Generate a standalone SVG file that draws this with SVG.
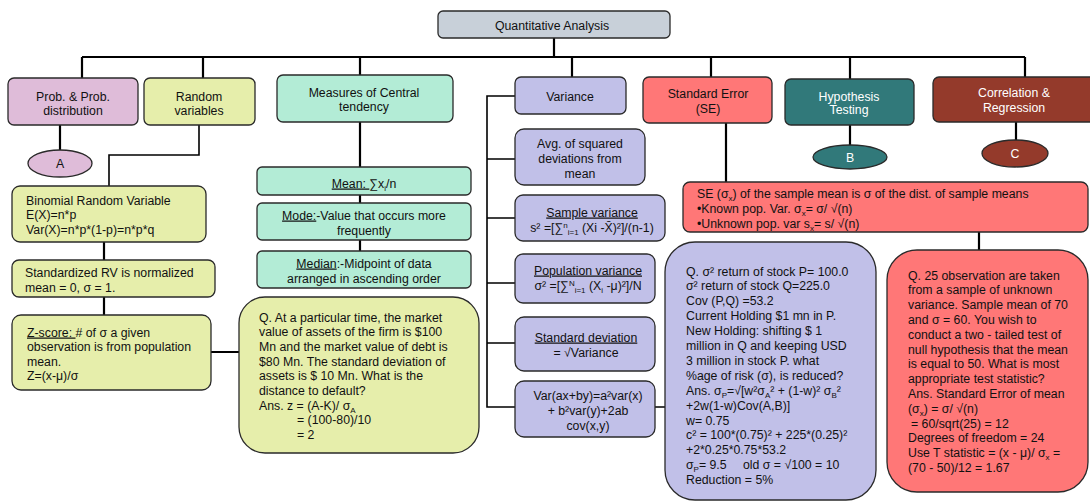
<svg xmlns="http://www.w3.org/2000/svg" width="1090" height="504" viewBox="0 0 1090 504">
<style>
.t{font-family:"Liberation Sans",Arial,sans-serif;font-size:12.3px;fill:#111}
.c{text-anchor:middle}
.w{fill:#fff}
.s{font-size:8px}
.u{text-decoration:underline}
.b{stroke:#2a2a2a;stroke-width:1.3}
.gray{fill:#c8d0d9}.pink{fill:#dfbcd9}.yel{fill:#e6eeab}.mint{fill:#b3ecd6}.lav{fill:#c1c0e8}.red{fill:#ff7777}.teal{fill:#31797a}.brown{fill:#943a2b}
.ln{stroke:#000;stroke-width:2.2;fill:none}
.ln2{stroke:#000;stroke-width:1.6;fill:none}
</style>
<rect width="1090" height="504" fill="#fff"/>
<g id="connectors">
<path class="ln" d="M554 38V57M82 57H1025M82 57V78M203 57V78M360 57V75M572 57V77M711 57V77M850 57V79M1025 57V77"/>
<path class="ln" d="M60 125V150M104 242V260M104 297V315M211 352H239M360 122V167M360 195V203M360 240V251M726 123V182M979 232V250M850 125V145M1016 122V140"/>
<path class="ln2" d="M199 125V155H109V186"/>
<path class="ln2" d="M515 96H487V407H515M487 159H515M487 218H515M487 283H515M487 343H515M655 407H665"/>
</g>
<g id="n-quant"><rect class="b gray" x="438" y="11" width="232" height="27" rx="5"/><text class="t c" x="552" y="29.5">Quantitative Analysis</text></g>
<g id="n-prob"><rect class="b pink" x="8" y="78" width="130" height="47" rx="6"/><text class="t c" x="73" y="100.5">Prob. &amp; Prob.</text><text class="t c" x="73" y="114.5">distribution</text></g>
<g id="n-random"><rect class="b yel" x="144" y="78" width="111" height="47" rx="6"/><text class="t c" x="199" y="100.5">Random</text><text class="t c" x="199" y="114.5">variables</text></g>
<g id="n-measures"><rect class="b mint" x="277" y="75" width="176" height="47" rx="6"/><text class="t c" x="364" y="96.5">Measures of Central</text><text class="t c" x="364" y="110.5">tendency</text></g>
<g id="n-variance"><rect class="b lav" x="515" y="77" width="111" height="37" rx="6"/><text class="t c" x="570" y="100.5">Variance</text></g>
<g id="n-se"><rect class="b red" x="643" y="77" width="129" height="46" rx="6"/><text class="t c" x="708" y="97.5">Standard Error</text><text class="t c" x="708" y="112.5">(SE)</text></g>
<g id="n-hyp"><rect class="b teal" x="785" y="79" width="129" height="46" rx="6"/><text class="t c w" x="849" y="100.5">Hypothesis</text><text class="t c w" x="849" y="113.5">Testing</text></g>
<g id="n-corr"><rect class="b brown" x="933" y="77" width="163" height="45" rx="6"/><text class="t c w" x="1014" y="96.5">Correlation &amp;</text><text class="t c w" x="1014" y="111.5">Regression</text></g>
<g id="n-a"><ellipse class="b pink" cx="60" cy="163.5" rx="32" ry="13.5"/><text class="t c" x="60" y="168">A</text></g>
<g id="n-b"><ellipse class="b teal" cx="850" cy="157" rx="37" ry="12"/><text class="t c w" x="850" y="161.5">B</text></g>
<g id="n-c"><ellipse class="b brown" cx="1015" cy="153.5" rx="33" ry="13.5"/><text class="t c w" x="1015" y="158">C</text></g>
<g id="n-binomial"><rect class="b yel" x="12" y="186" width="194" height="56" rx="8"/><text class="t" x="26" y="204.5">Binomial Random Variable</text><text class="t" x="26" y="219">E(X)=n*p</text><text class="t" x="26" y="233.5">Var(X)=n*p*(1-p)=n*p*q</text></g>
<g id="n-std-rv"><rect class="b yel" x="12" y="260" width="203" height="37" rx="7"/><text class="t" x="25" y="276.5">Standardized RV is normalized</text><text class="t" x="25" y="291.5">mean = 0, σ = 1.</text></g>
<g id="n-zscore"><rect class="b yel" x="12" y="315" width="199" height="75" rx="9"/><text class="t" x="27" y="336.5"><tspan class="u">Z-score: </tspan># of σ a given</text><text class="t" x="27" y="351">observation is from population</text><text class="t" x="27" y="365.5">mean.</text><text class="t" x="27" y="380">Z=(x-μ)/σ</text></g>
<g id="n-mean"><rect class="b mint" x="257" y="167" width="214" height="28" rx="5"/><text class="t c" x="364" y="187.5"><tspan class="u">Mean: </tspan>∑x<tspan class="s" dy="3">i</tspan><tspan dy="-3">/n</tspan></text></g>
<g id="n-mode"><rect class="b mint" x="257" y="203" width="214" height="37" rx="5"/><text class="t c" x="364" y="219.5"><tspan class="u">Mode:</tspan>-Value that occurs more</text><text class="t c" x="364" y="234.5">frequently</text></g>
<g id="n-median"><rect class="b mint" x="257" y="251" width="214" height="37" rx="5"/><text class="t c" x="364" y="267.5"><tspan class="u">Median</tspan>:-Midpoint of data</text><text class="t c" x="364" y="282.5">arranged in ascending order</text></g>
<g id="n-q-dtd"><rect class="b yel" x="239" y="297" width="240" height="156" rx="26"/>
<text class="t" x="259" y="321.5">Q. At a particular time, the market</text>
<text class="t" x="259" y="336.2">value of assets of the firm is $100</text>
<text class="t" x="259" y="350.9">Mn and the market value of debt is</text>
<text class="t" x="259" y="365.6">$80 Mn. The standard deviation of</text>
<text class="t" x="259" y="380.3">assets is $ 10 Mn. What is the</text>
<text class="t" x="259" y="395">distance to default?</text>
<text class="t" x="259" y="409.7">Ans. z = (A-K)/ σ<tspan class="s" dy="3">A</tspan></text>
<text class="t" x="297" y="424.4">= (100-80)/10</text>
<text class="t" x="297" y="439.1">= 2</text>
</g>
<g id="n-avg"><rect class="b lav" x="515" y="129" width="130" height="56" rx="9"/><text class="t c" x="580" y="147.5">Avg. of squared</text><text class="t c" x="580" y="162.5">deviations from</text><text class="t c" x="580" y="177.5">mean</text></g>
<g id="n-sample-var"><rect class="b lav" x="515" y="195" width="150" height="46" rx="8"/><text class="t c u" x="592" y="216.5">Sample variance</text><text class="t c" x="592" y="231.5">s² =[∑<tspan class="s" dy="-4">n</tspan><tspan class="s" dy="7">i=1</tspan><tspan dy="-3"> (Xi -X̄)²]/(n-1)</tspan></text></g>
<g id="n-pop-var"><rect class="b lav" x="515" y="254" width="140" height="49" rx="8"/><text class="t c u" x="588" y="274.5">Population variance</text><text class="t c" x="588" y="289.5">σ² =[∑<tspan class="s" dy="-4">N</tspan><tspan class="s" dy="7">i=1</tspan><tspan dy="-3"> (X</tspan><tspan class="s" dy="3">i</tspan><tspan dy="-3"> -μ)²]/N</tspan></text></g>
<g id="n-stdev"><rect class="b lav" x="515" y="317" width="140" height="54" rx="9"/><text class="t c u" x="586" y="341.5">Standard deviation</text><text class="t c" x="586" y="356.5">= √Variance</text></g>
<g id="n-varcomb"><rect class="b lav" x="515" y="381" width="140" height="56" rx="9"/><text class="t c" x="588" y="399.5">Var(ax+by)=a²var(x)</text><text class="t c" x="588" y="414.5">+ b²var(y)+2ab</text><text class="t c" x="588" y="429.5">cov(x,y)</text></g>
<g id="n-se-detail"><rect class="b red" x="683" y="182" width="405" height="50" rx="7"/>
<text class="t" x="697" y="197.5">SE (σ<tspan class="s" dy="3">x</tspan><tspan dy="-3">) of the sample mean is σ of the dist. of sample means</tspan></text>
<text class="t" x="697" y="212.5">•Known pop. Var. σ<tspan class="s" dy="3">x</tspan><tspan dy="-3">= σ/ √(n)</tspan></text>
<text class="t" x="697" y="227.5">•Unknown pop. var s<tspan class="s" dy="3">x</tspan><tspan dy="-3">= s/ √(n)</tspan></text>
</g>
<g id="n-q-port"><rect class="b lav" x="665" y="242" width="211" height="258" rx="30"/>
<text class="t" x="686" y="275.5">Q. σ² return of stock P= 100.0</text>
<text class="t" x="686" y="290.4">σ² return of stock Q=225.0</text>
<text class="t" x="686" y="305.3">Cov (P,Q) =53.2</text>
<text class="t" x="686" y="320.2">Current Holding $1 mn in P.</text>
<text class="t" x="686" y="335.1">New Holding: shifting $ 1</text>
<text class="t" x="686" y="350">million in Q and keeping USD</text>
<text class="t" x="686" y="364.9">3 million in stock P. what</text>
<text class="t" x="686" y="379.8">%age of risk (σ), is reduced?</text>
<text class="t" x="686" y="394.7">Ans. σ<tspan class="s" dy="3">P</tspan><tspan dy="-3">=√[w²σ</tspan><tspan class="s" dy="3">A</tspan><tspan dy="-3">² + (1-w)² σ</tspan><tspan class="s" dy="3">B</tspan><tspan dy="-3">²</tspan></text>
<text class="t" x="686" y="409.6">+2w(1-w)Cov(A,B)]</text>
<text class="t" x="686" y="424.5">w= 0.75</text>
<text class="t" x="686" y="439.4">c² = 100*(0.75)² + 225*(0.25)²</text>
<text class="t" x="686" y="454.3">+2*0.25*0.75*53.2</text>
<text class="t" x="686" y="469.2">σ<tspan class="s" dy="3">P</tspan><tspan dy="-3">= 9.5</tspan><tspan x="743">old σ = √100 = 10</tspan></text>
<text class="t" x="686" y="484.1">Reduction = 5%</text>
</g>
<g id="n-q-ttest"><rect class="b red" x="887" y="250" width="201" height="242" rx="30"/>
<text class="t" x="908" y="279.5">Q. 25 observation are taken</text>
<text class="t" x="908" y="294.3">from a sample of unknown</text>
<text class="t" x="908" y="309.1">variance. Sample mean of 70</text>
<text class="t" x="908" y="323.9">and σ = 60. You wish to</text>
<text class="t" x="908" y="338.7">conduct a two - tailed test of</text>
<text class="t" x="908" y="353.5">null hypothesis that the mean</text>
<text class="t" x="908" y="368.3">is equal to 50. What is most</text>
<text class="t" x="908" y="383.1">appropriate test statistic?</text>
<text class="t" x="908" y="397.9">Ans. Standard Error of mean</text>
<text class="t" x="908" y="412.7">(σ<tspan class="s" dy="3">x</tspan><tspan dy="-3">) = σ/ √(n)</tspan></text>
<text class="t" x="911" y="427.5">= 60/sqrt(25) = 12</text>
<text class="t" x="908" y="442.3">Degrees of freedom = 24</text>
<text class="t" x="908" y="457.1">Use T statistic = (x - μ)/ σ<tspan class="s" dy="3">x</tspan><tspan dy="-3"> =</tspan></text>
<text class="t" x="908" y="471.9">(70 - 50)/12 = 1.67</text>
</g>
</svg>
